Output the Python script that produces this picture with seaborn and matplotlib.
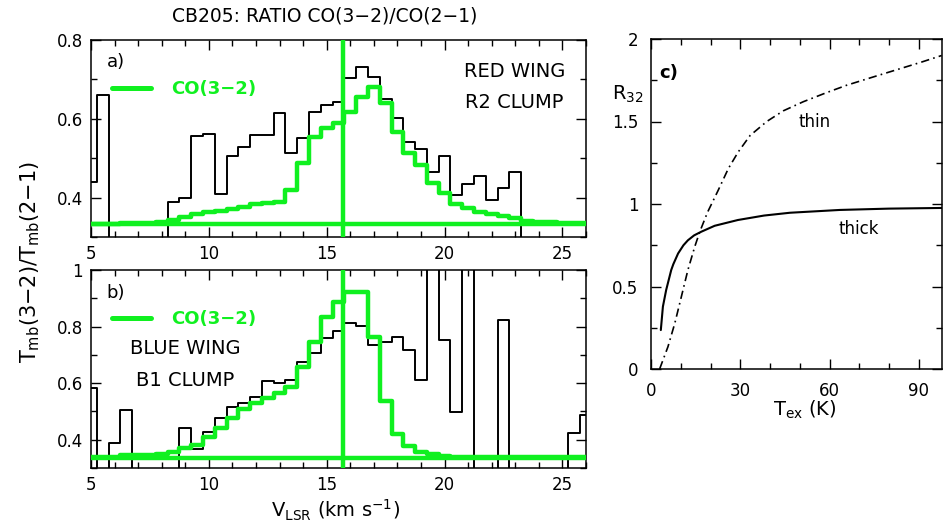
import numpy as np
import pandas as pd
import matplotlib
matplotlib.use("Agg")
import matplotlib.pyplot as plt
from matplotlib.ticker import MultipleLocator, FuncFormatter
import seaborn as sns

# ---------------- data ----------------
# channel velocities (km/s), 0.5 km/s channels
v_lsr = [5.0, 5.5, 6.0, 6.5, 7.0, 7.5, 8.0, 8.5, 9.0, 9.5, 10.0, 10.5, 11.0, 11.5,
         12.0, 12.5, 13.0, 13.5, 14.0, 14.5, 15.0, 15.5, 16.0, 16.5, 17.0, 17.5,
         18.0, 18.5, 19.0, 19.5, 20.0, 20.5, 21.0, 21.5, 22.0, 22.5, 23.0, 23.5,
         24.0, 24.5, 25.0, 25.5, 26.0]

# panel a) red wing, R2 clump
ratio_red = [0.44, 0.66, 0.0, 0.0, 0.0, 0.0, 0.0, 0.389, 0.40, 0.556, 0.561, 0.408,
             0.506, 0.528, 0.56, 0.56, 0.614, 0.514, 0.55, 0.616, 0.635, 0.643,
             0.703, 0.731, 0.705, 0.65, 0.601, 0.542, 0.523, 0.466, 0.506, 0.407,
             0.435, 0.456, 0.394, 0.424, 0.466, 0.0, 0.0, 0.0, 0.0, 0.0, 0.0]
co32_red = [0.334, 0.334, 0.334, 0.335, 0.335, 0.336, 0.339, 0.343, 0.35, 0.358,
            0.363, 0.366, 0.371, 0.377, 0.384, 0.386, 0.388, 0.419, 0.487, 0.553,
            0.577, 0.59, 0.618, 0.656, 0.68, 0.64, 0.567, 0.512, 0.483, 0.436,
            0.411, 0.384, 0.374, 0.364, 0.358, 0.353, 0.347, 0.341, 0.339, 0.337,
            0.336, 0.335, 0.335]

# panel b) blue wing, B1 clump
ratio_blue = [0.582, 0.0, 0.387, 0.505, 0.0, 0.0, 0.0, 0.0, 0.44, 0.366, 0.428,
              0.478, 0.517, 0.529, 0.552, 0.608, 0.599, 0.611, 0.674, 0.705, 0.758,
              0.784, 0.814, 0.802, 0.735, 0.746, 0.764, 0.717, 0.611, 1.5, 0.752,
              0.499, 1.5, 0.0, 0.0, 0.823, 0.0, 0.0, 0.0, 0.0, 0.0, 0.423, 0.487]
co32_blue = [0.339, 0.339, 0.339, 0.346, 0.346, 0.346, 0.349, 0.358, 0.372, 0.381,
             0.411, 0.44, 0.476, 0.507, 0.529, 0.549, 0.564, 0.587, 0.658, 0.744,
             0.835, 0.886, 0.921, 0.921, 0.764, 0.537, 0.419, 0.379, 0.358, 0.349,
             0.342, 0.34, 0.339, 0.339, 0.339, 0.339, 0.339, 0.339, 0.339, 0.339,
             0.339, 0.339, 0.339]

v_sys = 15.7
baseline_red = 0.333
baseline_blue = 0.336

# panel c) R32 vs Tex
tex_thick = [3.3, 4.0, 5.1, 6.8, 7.5, 9.1, 10.9, 12.4, 14.5, 16.9, 21.4, 29.2,
             38.0, 46.7, 63.5, 80.0, 97.7]
r32_thick = [0.236, 0.378, 0.479, 0.60, 0.635, 0.70, 0.75, 0.78, 0.81, 0.832,
             0.868, 0.903, 0.930, 0.947, 0.964, 0.972, 0.976]
tex_thin = [2.9, 5.7, 8.0, 10.2, 12.4, 14.7, 16.4, 19.0, 22.5, 26.0, 29.3, 33.3,
            38.9, 44.5, 51.2, 59.0, 65.8, 74.7, 90.9, 97.7]
r32_thin = [0.0, 0.135, 0.277, 0.438, 0.60, 0.741, 0.832, 0.95, 1.08, 1.215, 1.315,
            1.415, 1.50, 1.565, 1.62, 1.675, 1.72, 1.77, 1.86, 1.90]

# ---------------- style ----------------
sns.set_style("ticks")
plt.rcParams["font.family"] = ["DejaVu Sans"]
plt.rcParams["mathtext.default"] = "regular"
for k in ("text.color", "axes.labelcolor", "xtick.color", "ytick.color",
          "axes.edgecolor"):
    plt.rcParams[k] = "black"

GREEN = "#10f020"
W, H = 943, 526

fig = plt.figure(figsize=(W / 100, H / 100), dpi=100)


def px_axes(l, t, r, b):
    return fig.add_axes([l / W, 1 - b / H, (r - l) / W, (b - t) / H])


ax_a = px_axes(91, 40, 586, 237)
ax_b = px_axes(91, 270, 586, 468)
ax_c = px_axes(651, 39, 942, 369)

fmt = FuncFormatter(lambda v, p: "%g" % round(v, 3))


def style_axes(ax, xmaj, xmin, ymaj, ymin, pad=6):
    for s in ax.spines.values():
        s.set_linewidth(1.1)
        s.set_color("black")
    ax.tick_params(which="both", direction="in", top=True, right=True,
                   width=1.0, colors="black", labelsize=12, pad=pad)
    ax.tick_params(which="major", length=7)
    ax.tick_params(which="minor", length=4)
    ax.xaxis.set_major_locator(MultipleLocator(xmaj))
    ax.xaxis.set_minor_locator(MultipleLocator(xmin))
    ax.yaxis.set_major_locator(MultipleLocator(ymaj))
    ax.yaxis.set_minor_locator(MultipleLocator(ymin))
    ax.xaxis.set_major_formatter(fmt)
    ax.yaxis.set_major_formatter(fmt)
    ax.set_xlabel("")
    ax.set_ylabel("")


def spectrum_panel(ax, ratio, co32, base, ylim):
    df = pd.DataFrame({"v": v_lsr, "ratio": ratio, "co32": co32})
    sns.lineplot(data=df, x="v", y="ratio", ax=ax, color="black", lw=1.4,
                 drawstyle="steps-mid", zorder=3)
    sns.lineplot(data=df, x="v", y="co32", ax=ax, color=GREEN, lw=3.2,
                 drawstyle="steps-mid", zorder=4, label="CO(3\u22122)")
    ax.axhline(base, color=GREEN, lw=3.2, zorder=4)
    ax.axvline(v_sys, color=GREEN, lw=3.2, zorder=4)
    ax.set_xlim(5, 26)
    ax.set_ylim(*ylim)
    style_axes(ax, 5, 1, 0.2, 0.1)
    leg = ax.legend(loc="upper left", bbox_to_anchor=(0.016, 0.86), frameon=False,
                    handlelength=2.2, handletextpad=1.1, borderaxespad=0.3,
                    prop={"weight": "bold", "size": 13}, labelcolor=GREEN)
    for h in leg.legend_handles:
        h.set_linewidth(3.6)
    return leg


spectrum_panel(ax_a, ratio_red, co32_red, baseline_red, (0.3, 0.8))
spectrum_panel(ax_b, ratio_blue, co32_blue, baseline_blue, (0.3, 1.0))

ax_a.text(0.032, 0.888, "a)", transform=ax_a.transAxes, fontsize=13,
          ha="left", va="center")
ax_a.text(0.855, 0.838, "RED WING", transform=ax_a.transAxes, fontsize=14,
          ha="center", va="center")
ax_a.text(0.855, 0.685, "R2 CLUMP", transform=ax_a.transAxes, fontsize=14,
          ha="center", va="center")
ax_b.text(0.032, 0.884, "b)", transform=ax_b.transAxes, fontsize=13,
          ha="left", va="center")
ax_b.text(0.19, 0.606, "BLUE WING", transform=ax_b.transAxes, fontsize=14,
          ha="center", va="center")
ax_b.text(0.19, 0.444, "B1 CLUMP", transform=ax_b.transAxes, fontsize=14,
          ha="center", va="center")

# panel c
dthick = pd.DataFrame({"T": tex_thick, "R": r32_thick})
dthin = pd.DataFrame({"T": tex_thin, "R": r32_thin})
sns.lineplot(data=dthick, x="T", y="R", ax=ax_c, color="black", lw=1.5)
sns.lineplot(data=dthin, x="T", y="R", ax=ax_c, color="black", lw=1.2,
             linestyle=(0, (5, 2.5, 1, 2.5)))
ax_c.set_xlim(0, 97.8)
ax_c.set_ylim(0, 2)
style_axes(ax_c, 30, 10, 0.5, 0.25, pad=9)
ax_c.text(0.062, 0.897, "c)", transform=ax_c.transAxes, fontsize=13,
          fontweight="bold", ha="center", va="center")
ax_c.text(55.1, 1.497, "thin", fontsize=12, ha="center", va="center")
ax_c.text(69.9, 0.848, "thick", fontsize=12, ha="center", va="center")

# figure-level labels
fig.text(325 / W, 1 - 16 / H, "CB205: RATIO CO(3\u22122)/CO(2\u22121)",
         fontsize=13.5, ha="center", va="center")
fig.text(30 / W, 1 - 262 / H, r"T$_{mb}$(3$-$2)/T$_{mb}$(2$-$1)",
         fontsize=15, rotation=90, ha="center", va="center")
fig.text(336 / W, 1 - 510 / H, r"V$_{LSR}$ (km s$^{-1}$)",
         fontsize=14, ha="center", va="center")
fig.text(805 / W, 1 - 410 / H, r"T$_{ex}$ (K)",
         fontsize=14, ha="center", va="center")
fig.text(628 / W, 1 - 94 / H, r"R$_{32}$",
         fontsize=14, ha="center", va="center")

fig.savefig("out.png", dpi=100)
